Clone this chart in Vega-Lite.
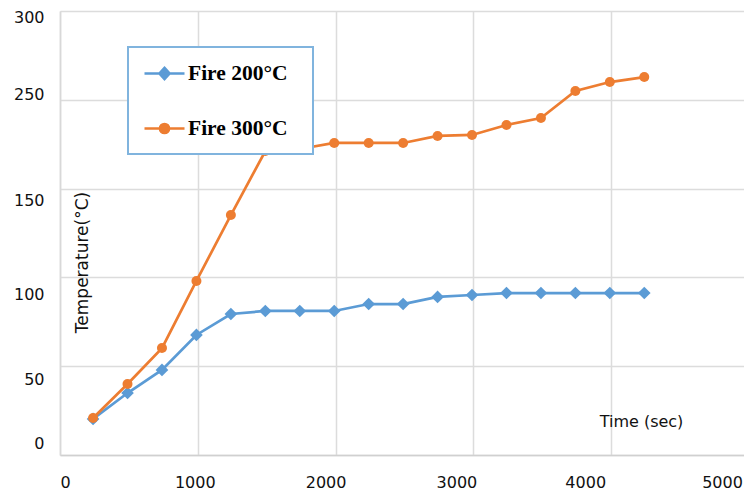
{
  "$schema": "https://vega.github.io/schema/vega-lite/v6.json",
  "width": 684,
  "height": 444,
  "autosize": {"type": "none"},
  "padding": {"left": 60, "top": 11, "right": 0, "bottom": 38},
  "background": "white",
  "config": {
    "view": {"stroke": null},
    "font": "DejaVu Sans",
    "legend": {"strokeWidth": 2}
  },
  "data": {
    "values": [
      {"time": 240, "series": "Fire 200°C", "temp": 20.3},
      {"time": 490, "series": "Fire 200°C", "temp": 34.9},
      {"time": 740, "series": "Fire 200°C", "temp": 47.9},
      {"time": 990, "series": "Fire 200°C", "temp": 67.6},
      {"time": 1240, "series": "Fire 200°C", "temp": 79.4},
      {"time": 1490, "series": "Fire 200°C", "temp": 81.1},
      {"time": 1740, "series": "Fire 200°C", "temp": 81.1},
      {"time": 1990, "series": "Fire 200°C", "temp": 81.1},
      {"time": 2240, "series": "Fire 200°C", "temp": 85.0},
      {"time": 2490, "series": "Fire 200°C", "temp": 85.0},
      {"time": 2740, "series": "Fire 200°C", "temp": 89.0},
      {"time": 2990, "series": "Fire 200°C", "temp": 90.1},
      {"time": 3240, "series": "Fire 200°C", "temp": 91.2},
      {"time": 3490, "series": "Fire 200°C", "temp": 91.2},
      {"time": 3740, "series": "Fire 200°C", "temp": 91.2},
      {"time": 3990, "series": "Fire 200°C", "temp": 91.2},
      {"time": 4240, "series": "Fire 200°C", "temp": 91.2},
      {"time": 240, "series": "Fire 300°C", "temp": 20.8},
      {"time": 490, "series": "Fire 300°C", "temp": 40.0},
      {"time": 740, "series": "Fire 300°C", "temp": 60.2},
      {"time": 990, "series": "Fire 300°C", "temp": 98.0},
      {"time": 1240, "series": "Fire 300°C", "temp": 135.1},
      {"time": 1490, "series": "Fire 300°C", "temp": 192.3},
      {"time": 1740, "series": "Fire 300°C", "temp": 194.6},
      {"time": 1990, "series": "Fire 300°C", "temp": 201.4},
      {"time": 2240, "series": "Fire 300°C", "temp": 201.4},
      {"time": 2490, "series": "Fire 300°C", "temp": 201.4},
      {"time": 2740, "series": "Fire 300°C", "temp": 209.3},
      {"time": 2990, "series": "Fire 300°C", "temp": 210.4},
      {"time": 3240, "series": "Fire 300°C", "temp": 221.6},
      {"time": 3490, "series": "Fire 300°C", "temp": 229.5},
      {"time": 3740, "series": "Fire 300°C", "temp": 255.0},
      {"time": 3990, "series": "Fire 300°C", "temp": 260.0},
      {"time": 4240, "series": "Fire 300°C", "temp": 262.8}
    ]
  },
  "encoding": {
    "x": {
      "field": "time",
      "type": "quantitative",
      "scale": {"domain": [0, 5000], "range": [0, 689], "nice": false, "zero": false},
      "axis": {
        "values": [0, 1000, 2000, 3000, 4000, 5000],
        "format": "d",
        "grid": true,
        "gridColor": "#dcdcdc",
        "gridWidth": 1.5,
        "ticks": false,
        "domainColor": "#d0d0d0",
        "domainWidth": 1.5,
        "labelFont": "DejaVu Sans",
        "labelFontSize": 16,
        "labelColor": "#111111",
        "labelPadding": 19,
        "labelFlush": false,
        "labelOverlap": false,
        "labelOffset": {
          "condition": [
            {"test": "datum.value == 0", "value": 5},
            {"test": "datum.value == 1000", "value": -3},
            {"test": "datum.value == 2000", "value": -10},
            {"test": "datum.value == 3000", "value": -17},
            {"test": "datum.value == 4000", "value": -26},
            {"test": "datum.value == 5000", "value": -27}
          ],
          "value": 0
        },
        "title": "Time (sec)",
        "titleFont": "DejaVu Sans",
        "titleFontSize": 16,
        "titleFontWeight": "normal",
        "titleColor": "#111111",
        "titleX": 581,
        "titleY": -34,
        "titleAlign": "center",
        "titleBaseline": "middle"
      }
    },
    "y": {
      "field": "temp",
      "type": "quantitative",
      "scale": {
        "domain": [0, 50, 100, 150, 250, 300],
        "range": [444, 355.2, 266.4, 177.6, 88.8, 0],
        "nice": false,
        "zero": false
      },
      "axis": {
        "values": [0, 50, 100, 150, 250, 300],
        "grid": true,
        "gridColor": "#dcdcdc",
        "gridWidth": 1.5,
        "ticks": false,
        "domainColor": "#d8d8d8",
        "domainWidth": 1.5,
        "labelFont": "DejaVu Sans",
        "labelFontSize": 16,
        "labelColor": "#111111",
        "labelPadding": 16,
        "labelOverlap": false,
        "labelFlush": false,
        "labelOffset": {
          "condition": [
            {"test": "datum.value == 300", "value": 6},
            {"test": "datum.value == 250", "value": -5},
            {"test": "datum.value == 150", "value": 12},
            {"test": "datum.value == 100", "value": 17},
            {"test": "datum.value == 50", "value": 13},
            {"test": "datum.value == 0", "value": -12}
          ],
          "value": 0
        },
        "title": "Temperature(°C)",
        "titleFont": "DejaVu Sans",
        "titleFontSize": 17,
        "titleFontWeight": "normal",
        "titleColor": "#111111",
        "titleAngle": -90,
        "titleX": 22,
        "titleY": 251,
        "titleAlign": "center",
        "titleBaseline": "middle"
      }
    }
  },
  "layer": [
    {
      "mark": {"type": "line", "strokeWidth": 2.7},
      "encoding": {
        "color": {
          "field": "series",
          "type": "nominal",
          "scale": {"domain": ["Fire 200°C", "Fire 300°C"], "range": ["#5B9BD5", "#ED7D31"]},
          "legend": null
        }
      }
    },
    {
      "mark": {"type": "point", "filled": true, "opacity": 1},
      "encoding": {
        "color": {
          "field": "series",
          "type": "nominal",
          "scale": {"domain": ["Fire 200°C", "Fire 300°C"], "range": ["#5B9BD5", "#ED7D31"]},
          "legend": null
        },
        "shape": {
          "field": "series",
          "type": "nominal",
          "scale": {"domain": ["Fire 200°C", "Fire 300°C"], "range": ["diamond", "circle"]},
          "legend": null
        },
        "size": {
          "field": "series",
          "type": "nominal",
          "scale": {"domain": ["Fire 200°C", "Fire 300°C"], "range": [160, 100]},
          "legend": null
        }
      }
    },
    {
      "transform": [{"filter": "false"}],
      "mark": {"type": "point", "filled": true, "opacity": 1},
      "encoding": {
        "color": {
          "field": "series",
          "type": "nominal",
          "scale": {"domain": ["Fire 200°C", "Fire 300°C"], "range": ["#5B9BD5", "#ED7D31"]},
          "legend": null
        },
        "shape": {
          "field": "series",
          "type": "nominal",
          "scale": {
            "domain": ["Fire 200°C", "Fire 300°C"],
            "range": [
              "M-1,0L3,0M1,-0.55L1.5,0L1,0.55L0.5,0Z",
              "M-1,0L3,0M1.45,0A0.45,0.45,0,1,1,0.55,0A0.45,0.45,0,1,1,1.45,0Z"
            ]
          },
          "legend": {
            "title": "\u00a0\u00a0", "titleOrient": "right", "titlePadding": 10, "titleFontSize": 21.5,
            "orient": "none", "legendX": 68, "legendY": 36, "direction": "vertical",
            "padding": 15, "strokeColor": "#80b4de", "fillColor": "white",
            "labelFont": "Liberation Serif", "labelFontWeight": "bold", "labelFontSize": 21.5, "labelColor": "#000000",
            "labelLimit": 400, "symbolSize": 400,
            "labelOffset": 22, "rowPadding": 32,
            "symbolStrokeWidth": 2.7,
            "symbolOpacity": 1,
            "symbolFillColor": {"expr": "datum.value == 'Fire 200°C' ? '#5B9BD5' : '#ED7D31'"},
            "symbolStrokeColor": {"expr": "datum.value == 'Fire 200°C' ? '#5B9BD5' : '#ED7D31'"}
          }
        }
      }
    }
  ],
  "resolve": {"scale": {"shape": "independent", "size": "independent"}}
}
